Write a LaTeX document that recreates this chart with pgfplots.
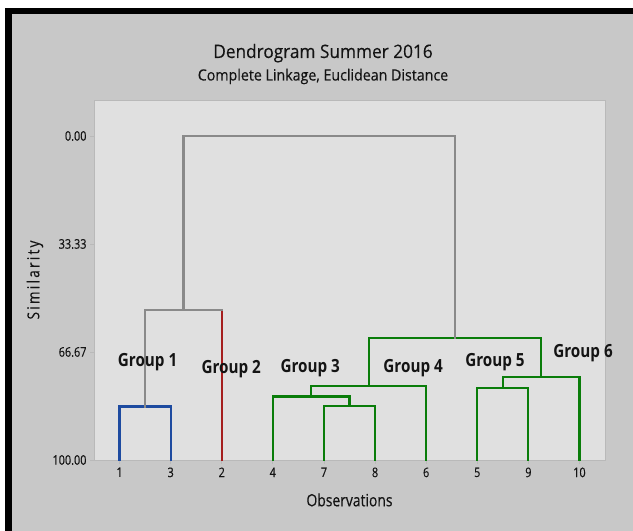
\documentclass[border=0pt]{standalone}
\usepackage{fontspec}
\setmainfont{Open Sans}
\newfontfamily\titlefont[FakeStretch=0.93,FakeBold=0.3]{Open Sans}
\newfontfamily\subfont[FakeStretch=0.92,FakeBold=0.3]{Open Sans}
\newfontfamily\tickfont[FakeStretch=0.82,FakeBold=0.3]{Open Sans}
\newfontfamily\labfont[FakeStretch=0.82,FakeBold=0.3]{Open Sans}
\newfontfamily\simfont[FakeStretch=0.82,LetterSpace=14,FakeBold=0.3]{Open Sans}
\newfontfamily\grpfont[FakeStretch=0.84]{Open Sans}
\usepackage{pgfplots}
\pgfplotsset{compat=1.18}
\definecolor{panel}{RGB}{200,200,200}
\definecolor{plotbg}{RGB}{224,224,224}
\definecolor{axgray}{RGB}{185,185,185}
\definecolor{dgray}{RGB}{138,138,138}
\definecolor{dblue}{RGB}{30,75,160}
\definecolor{dred}{RGB}{165,30,30}
\definecolor{dgreen}{RGB}{10,125,10}
\definecolor{txt}{RGB}{20,20,20}
\begin{document}
\begin{tikzpicture}[x=1bp,y=1bp]
\fill[white] (0,0) rectangle (633,531);
\fill[panel] (12,0) rectangle (633,517);
\fill[black] (5,0) rectangle (12,523);
\fill[black] (5,517) rectangle (633,523);
\node[anchor=base,inner sep=0pt,font=\titlefont\fontsize{18.6}{22}\selectfont,text=txt] at (323,473) {Dendrogram Summer 2016};
\node[anchor=base,inner sep=0pt,font=\subfont\fontsize{15.5}{19}\selectfont,text=txt] at (323,450.5) {Complete Linkage, Euclidean Distance};
\begin{axis}[
  at={(94bp,71bp)}, anchor=south west,
  scale only axis, width=511bp, height=360bp,
  xmin=0.5, xmax=10.5, ymin=-100, ymax=11.1,
  axis background/.style={fill=plotbg},
  axis line style={draw=axgray, line width=0.8bp},
  tick style={draw=axgray, line width=0.8bp},
  tick align=outside, major tick length=4bp,
  xtick pos=bottom, ytick pos=left,
  xtick={1,...,10},
  xticklabels={1,3,2,4,7,8,6,5,9,10},
  ytick={-100,-66.67,-33.33,0},
  yticklabels={100.00,66.67,33.33,0.00},
  /pgf/number format/assume math mode=true,
  ticklabel style={font=\tickfont\fontsize{13.3}{15}\selectfont, text=txt},
  xlabel={Observations},
  ylabel={Similarity},
  xlabel style={at={(axis description cs:0.5,-0.111)}, anchor=center, font=\labfont\fontsize{17}{19}\selectfont, text=txt},
  ylabel style={at={(axis description cs:-0.1155,0.5)}, anchor=center, font=\simfont\fontsize{16.5}{18}\selectfont, text=txt},
  clip=false,
  every axis plot/.append style={line width=2.2bp, line join=miter, line cap=rect},
]
\addplot[dblue] coordinates {(1,-100) (1,-83.5) (2,-83.5) (2,-100)};
\addplot[dred] coordinates {(3,-100) (3,-53.7)};
\addplot[dgray] coordinates {(1.5,-83.5) (1.5,-53.7) (3,-53.7)};
\addplot[dgreen] coordinates {(5,-100) (5,-83.3) (6,-83.3) (6,-100)};
\addplot[dgreen] coordinates {(4,-100) (4,-80.4) (5.5,-80.4) (5.5,-83.3)};
\addplot[dgreen] coordinates {(4.75,-80.4) (4.75,-77.05) (7,-77.05) (7,-100)};
\addplot[dgreen] coordinates {(8,-100) (8,-77.9) (9,-77.9) (9,-100)};
\addplot[dgreen] coordinates {(8.5,-77.9) (8.5,-74.5) (10,-74.5) (10,-100)};
\addplot[dgreen] coordinates {(5.875,-77.05) (5.875,-62.45) (9.25,-62.45) (9.25,-74.5)};
\addplot[dgray] coordinates {(2.25,-53.7) (2.25,0) (7.5625,0) (7.5625,-62.45)};
\begin{scope}[every node/.style={font=\grpfont\bfseries\fontsize{18.2}{20}\selectfont, text=txt, inner sep=0pt, anchor=center}]
\node at (axis cs:1.549,-69.75) {Group 1};
\node at (axis cs:3.186,-72.07) {Group 2};
\node at (axis cs:4.731,-71.7) {Group 3};
\node at (axis cs:6.745,-71.6) {Group 4};
\node at (axis cs:8.347,-69.85) {Group 5};
\node at (axis cs:10.07,-67.0) {Group 6};
\end{scope}
\end{axis}
\end{tikzpicture}
\end{document}
